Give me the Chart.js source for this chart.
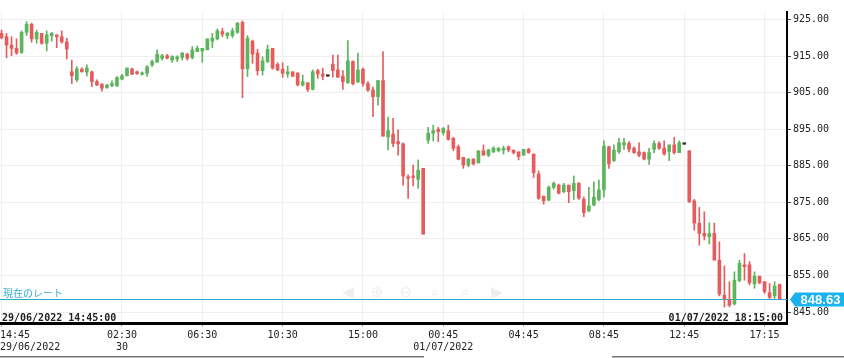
<!DOCTYPE html>
<html><head><meta charset="utf-8">
<script src="https://cdn.jsdelivr.net/npm/chart.js@4/dist/chart.umd.min.js"></script>
<style>html,body{margin:0;padding:0;background:#fff;overflow:hidden}canvas{display:block}</style>
</head><body>
<canvas id="c" width="844" height="358"></canvas>
<script>
const opens = [921.2,920.3,918.0,917.1,916.0,921.5,923.7,919.7,921.2,918.5,
920.6,920.8,920.3,918.9,910.7,908.5,911.4,910.6,910.7,908.0,
907.3,906.3,906.9,906.9,908.7,909.6,911.5,910.7,910.0,910.3,
912.6,913.3,914.4,915.1,913.9,914.2,914.6,915.5,914.6,916.2,
916.4,916.7,919.1,919.7,921.7,920.6,920.6,921.5,924.2,911.5,
919.1,915.8,911.0,913.5,917.1,912.7,911.4,910.1,910.7,910.4,
907.1,907.7,905.9,911.0,910.1,909.5,912.8,911.2,909.5,907.7,
913.5,908.0,911.4,907.5,905.7,903.9,908.3,892.9,893.7,891.6,
891.0,882.0,882.2,881.3,884.3,892.0,893.9,895.0,894.0,894.6,
892.5,890.2,887.3,885.2,886.8,885.8,889.1,887.9,888.8,889.1,
889.3,890.2,889.3,888.8,887.9,889.5,888.2,882.7,876.7,875.6,
879.1,879.7,877.9,879.7,878.2,880.2,875.8,872.7,874.3,875.8,
878.4,890.2,886.4,888.8,890.7,891.1,889.8,888.8,888.6,886.8,
889.5,891.1,889.8,888.9,890.7,888.6,890.9,889.1,875.4,869.3,
866.5,865.6,866.5,859.2,849.6,848.3,847.2,853.6,857.9,857.9,
852.7,854.8,853.3,850.3,849.4,852.5];
const highs = [922.1,921.2,920.3,919.7,921.9,924.4,924.0,922.1,921.2,921.9,
921.5,920.8,921.9,919.9,913.9,912.1,911.8,912.6,910.9,908.5,
907.5,907.3,908.2,909.4,910.0,911.8,911.7,910.9,910.7,912.4,
913.9,916.7,915.5,915.5,915.1,915.1,916.0,915.8,917.6,917.8,
917.1,919.7,921.2,922.4,922.6,921.5,922.6,924.2,924.6,920.6,
919.4,916.8,914.8,918.0,917.1,913.2,913.2,912.3,910.7,910.4,
909.8,907.7,911.2,911.4,911.7,909.5,915.3,915.3,911.0,919.2,
913.7,915.8,911.7,908.0,906.5,908.3,916.2,898.3,898.0,894.8,
891.3,882.5,885.2,886.6,884.3,895.5,896.1,895.5,895.5,896.1,
892.8,890.7,887.3,887.0,887.0,889.1,890.7,889.5,890.2,890.0,
890.4,890.4,889.3,888.8,889.5,889.8,888.2,883.6,876.7,879.5,
880.6,880.0,880.2,879.7,882.2,880.4,876.5,879.1,880.6,881.1,
891.8,890.4,890.7,892.5,892.5,891.6,890.2,891.3,888.8,889.8,
891.8,891.6,891.8,890.7,892.8,891.8,890.9,889.1,875.8,873.6,
872.4,869.4,869.3,864.2,857.6,853.3,856.0,859.2,861.0,858.8,
856.0,854.8,853.3,852.8,853.3,852.7];
const lows = [919.7,914.5,915.1,915.5,915.7,920.6,918.8,918.5,918.2,916.4,
919.1,917.3,918.5,914.2,907.5,908.0,910.6,909.6,906.6,906.9,
905.4,906.2,906.6,906.6,908.5,909.6,910.0,910.0,909.8,909.4,
912.1,913.3,913.9,914.2,913.3,913.5,913.9,913.9,914.2,916.2,
913.3,916.7,917.3,919.4,920.3,919.7,920.0,921.2,903.6,909.4,
913.0,909.8,909.8,913.2,911.4,911.0,909.2,909.2,909.4,906.8,
906.8,905.3,905.7,908.9,908.5,909.5,909.2,909.2,905.9,907.5,
907.1,907.7,906.8,905.3,898.4,901.6,893.1,889.3,890.2,887.9,
879.7,876.1,879.5,878.8,866.3,891.1,891.8,891.6,893.4,892.0,
889.1,886.6,884.3,884.7,885.2,885.7,887.9,887.5,888.6,888.8,
888.2,888.8,888.2,886.6,887.9,888.4,881.8,875.8,874.5,875.4,
878.6,877.3,877.6,874.9,875.8,875.8,871.1,872.4,874.0,875.4,
876.4,884.3,886.1,888.4,889.5,888.8,888.4,887.5,886.6,885.4,
888.6,889.5,887.9,886.4,888.2,888.6,890.9,874.9,867.4,863.3,
864.7,863.6,859.2,849.4,846.4,846.4,846.9,853.3,853.7,852.4,
851.5,852.7,850.1,848.7,848.7,848.5];
const closes = [920.0,918.0,917.1,915.8,921.5,923.7,919.7,921.5,918.5,920.8,
921.2,920.3,918.9,916.9,909.6,911.5,910.7,911.7,908.0,907.1,
906.2,907.1,907.5,909.1,909.6,911.7,910.0,910.2,910.4,912.1,
913.5,915.5,915.1,914.4,914.9,914.8,915.8,914.4,916.7,917.1,
917.1,919.7,919.9,921.9,921.0,921.2,921.9,924.0,911.5,919.9,
915.5,911.0,913.7,916.8,911.7,911.2,910.3,910.7,909.5,907.1,
908.0,905.9,910.7,910.1,909.5,909.5,911.0,909.2,908.0,913.7,
907.4,911.2,907.5,905.7,903.9,908.3,893.1,894.6,891.1,891.0,
882.2,881.6,881.8,883.8,866.3,893.9,894.6,894.3,895.2,892.2,
889.8,886.8,885.2,886.8,885.5,889.1,887.9,889.3,889.8,889.8,
889.8,889.3,888.6,887.5,889.5,888.6,883.1,876.1,875.4,879.1,
880.2,877.5,879.7,877.9,880.2,876.1,872.2,874.0,876.4,878.4,
890.4,885.5,889.3,891.3,891.3,889.5,888.6,887.9,886.8,888.6,
891.1,889.8,888.2,890.7,888.6,891.3,890.9,875.2,869.3,866.5,
865.8,866.5,859.2,849.9,848.7,846.9,853.7,858.3,857.4,853.0,
854.8,853.0,850.6,849.0,852.1,848.63];

const tickIndex = [0,24,40,56,72,88,104,120,136,152];
const tickTime = ['14:45','02:30','06:30','10:30','15:00','00:45','04:45','08:45','12:45','17:15'];
const tickDate = ['29/06/2022','30','','','','01/07/2022','','','',''];
const yTicks = [845,855,865,875,885,895,905,915,925];
const currentRate = 848.63;
const currentRateLabel = '現在のレート';
const firstTimeLabel = '29/06/2022 14:45:00';
const lastTimeLabel = '01/07/2022 18:15:00';
const navIcons = ['◀','⊕','⊖','⌕','⌕','▶'];

const UP = '#5cb45c', DOWN = '#e65c5e', FLAT = '#333333';
const colors = opens.map((o, i) => closes[i] > o ? UP : (closes[i] < o ? DOWN : FLAT));

const MONO = '"DejaVu Sans Mono", monospace';

const overlay = {
  id: 'overlay',
  beforeDatasetsDraw(chart) {
    const {ctx, chartArea: a, scales: {y}} = chart;
    const py = Math.round(y.getPixelForValue(currentRate)) + 0.5;
    ctx.save();
    ctx.fillStyle = '#eeeeee';
    ctx.font = '15px "DejaVu Sans"';
    ctx.textAlign = 'center';
    ctx.textBaseline = 'middle';
    const navX = [348, 377, 406, 435, 465, 497];
    navIcons.forEach((t, i) => ctx.fillText(t, navX[i], py - 6));
    ctx.strokeStyle = '#27adcc';
    ctx.lineWidth = 1.2;
    ctx.beginPath(); ctx.moveTo(a.left, py); ctx.lineTo(a.right, py); ctx.stroke();
    ctx.fillStyle = '#3aaad6';
    ctx.font = '10px "Noto Sans CJK JP"';
    ctx.textAlign = 'left';
    ctx.textBaseline = 'alphabetic';
    ctx.fillText(currentRateLabel, 3, py - 3);
    ctx.restore();
  },
  afterDraw(chart) {
    const {ctx, chartArea: a, scales: {x, y}} = chart;
    const py = Math.round(y.getPixelForValue(currentRate)) + 0.5;
    ctx.save();
    ctx.fillStyle = '#1ab2ef';
    const L = a.right + 3, R = 844, T = py - 7, B = py + 7;
    ctx.beginPath();
    ctx.moveTo(L, py);
    ctx.lineTo(L + 5, T);
    ctx.lineTo(R, T);
    ctx.lineTo(R, B);
    ctx.lineTo(L + 5, B);
    ctx.closePath();
    ctx.fill();
    ctx.fillStyle = '#ffffff';
    ctx.font = 'bold 13px "Liberation Sans"';
    ctx.textAlign = 'center';
    ctx.textBaseline = 'middle';
    ctx.fillText(currentRate.toFixed(2), (L + 5 + R) / 2 + 1, py + 0.5);
    ctx.fillStyle = '#222';
    ctx.font = 'bold 10px ' + MONO;
    ctx.textBaseline = 'alphabetic';
    ctx.textAlign = 'left';
    ctx.fillText(firstTimeLabel, a.left + 2, a.bottom - 2);
    ctx.textAlign = 'right';
    ctx.fillText(lastTimeLabel, a.right - 4, a.bottom - 2);
    ctx.font = '10px ' + MONO;
    ctx.fillStyle = '#222';
    tickIndex.forEach((v, i) => {
      const px = x.getPixelForValue(v);
      ctx.textAlign = i === 0 ? 'left' : 'center';
      const lx = i === 0 ? 0 : px;
      ctx.fillText(tickTime[i], lx, 338);
      if (tickDate[i]) ctx.fillText(tickDate[i], lx, 349.5);
    });
    ctx.fillStyle = '#777';
    ctx.fillRect(0, 356, 424, 1.5);
    ctx.fillRect(612, 356, 232, 1.5);
    ctx.restore();
  }
};

new Chart(document.getElementById('c'), {
  type: 'bar',
  data: {
    datasets: [
      {label: 'body', data: opens.map((o, i) => ({x: i, y: [o, closes[i]]})),
       backgroundColor: colors, barThickness: 3, minBarLength: 1.5, grouped: false, borderWidth: 0},
      {label: 'wick', data: opens.map((o, i) => ({x: i, y: [lows[i], highs[i]]})),
       backgroundColor: colors, barThickness: 1, grouped: false, borderWidth: 0}
    ]
  },
  options: {
    responsive: false, animation: false, devicePixelRatio: 1,
    layout: {padding: {top: 12, left: 0, right: 0, bottom: 0}},
    plugins: {legend: {display: false}, tooltip: {enabled: false}},
    scales: {
      x: {
        type: 'linear', min: -0.3, max: 156.47, offset: false,
        afterBuildTicks(s) { s.ticks = tickIndex.map(v => ({value: v})); },
        afterFit(s) { s.height = 35; s.paddingLeft = 0; s.paddingRight = 0; },
        ticks: {display: false},
        grid: {offset: false, color: '#efefef', tickColor: '#aaa', tickLength: 4},
        border: {display: true, color: '#000', width: 3}
      },
      y: {
        position: 'right', min: 842.0, max: 927.05,
        afterBuildTicks(s) { s.ticks = yTicks.map(v => ({value: v})); },
        afterFit(s) { s.width = 57; s.paddingTop = 0; s.paddingBottom = 0; },
        ticks: {callback: v => Number(v).toFixed(2), font: {family: 'DejaVu Sans Mono', size: 10}, color: '#222', padding: 2},
        grid: {color: '#efefef', tickColor: '#444', tickLength: 4},
        border: {display: true, color: '#000', width: 2}
      }
    }
  },
  plugins: [overlay]
});
</script>
</body></html>
